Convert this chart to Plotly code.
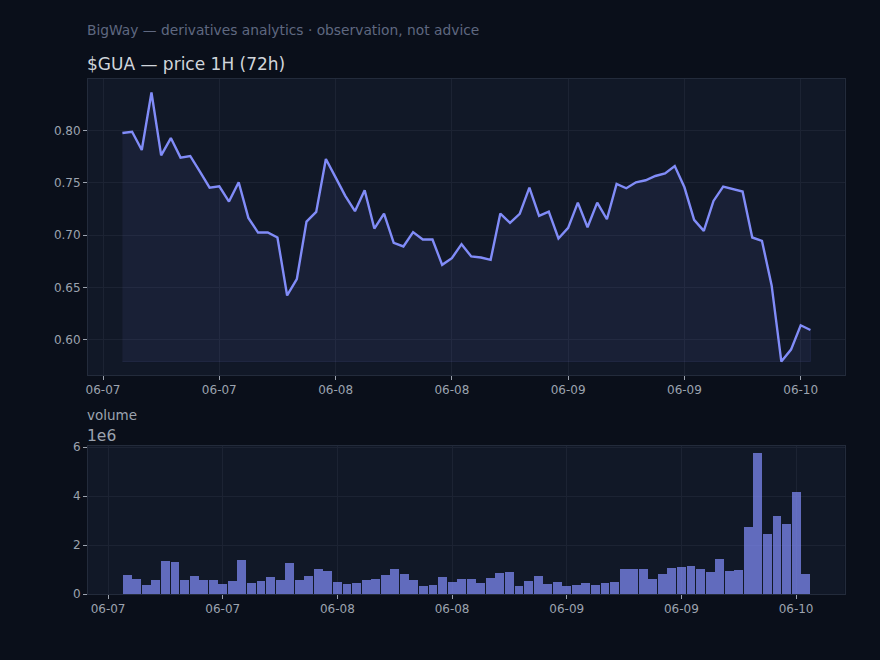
import pandas as pd
import plotly.graph_objects as go

# ---- data ----
start = "2024-06-07 02:00"
n_hours = 72
price = [
    0.7975, 0.7987, 0.7813, 0.8362, 0.7762, 0.7927, 0.7740, 0.7756, 0.7606, 0.7454,
    0.7467, 0.7321, 0.7505, 0.7165, 0.7025, 0.7025, 0.6978, 0.6425, 0.6581, 0.7130,
    0.7222, 0.7727, 0.7552, 0.7375, 0.7229, 0.7429, 0.7063, 0.7206, 0.6927, 0.6892,
    0.7029, 0.6959, 0.6959, 0.6717, 0.6781, 0.6914, 0.6797, 0.6787, 0.6765, 0.7206,
    0.7117, 0.7203, 0.7454, 0.7184, 0.7225, 0.6968, 0.7070, 0.7311, 0.7076, 0.7311,
    0.7152, 0.7489, 0.7448, 0.7505, 0.7524, 0.7565, 0.7590, 0.7660, 0.7457, 0.7146,
    0.7041, 0.7327, 0.7463, 0.7441, 0.7416, 0.6978, 0.6946, 0.6521, 0.5794, 0.5908,
    0.6140, 0.6095,
]
volume = [
    776000, 612000, 367000, 571000, 1347000, 1306000, 571000, 735000, 571000, 571000,
    422000, 531000, 1388000, 449000, 531000, 694000, 571000, 1265000, 571000, 735000,
    1020000, 939000, 490000, 408000, 449000, 571000, 612000, 776000, 1020000, 816000,
    571000, 327000, 367000, 694000, 490000, 612000, 612000, 449000, 653000, 857000,
    898000, 327000, 531000, 735000, 408000, 490000, 327000, 367000, 449000, 367000,
    449000, 490000, 1020000, 1020000, 1020000, 612000, 816000, 1061000, 1102000, 1143000,
    1020000, 898000, 1429000, 939000, 980000, 2735000, 5755000, 2449000, 3184000, 2857000,
    4163000, 816000,
]
vol_ticks = [0, 2e6, 4e6, 6e6]
vol_tick_text = ["0", "2", "4", "6"]

subtitle = "BigWay — derivatives analytics · observation, not advice"
title = "$GUA — price 1H (72h)"

# ---- styling ----
PAGE = "#0a0f1a"
FACE = "#111827"
GRID = "#1c2333"
SPINE = "#232b3b"
TICK = "#9ca3af"
LINE = "#818cf8"
FONT = "DejaVu Sans"

times = pd.date_range(start, periods=n_hours, freq="h")
hour = pd.Timedelta(hours=1)

pmin, pmax = min(price), max(price)
pr = pmax - pmin
t0, t1 = times[0], times[-1]
span = t1 - t0
x1_range = [t0 - 0.05 * span, t1 + 0.05 * span]
bspan = span + hour
x2_range = [t0 - 0.5 * hour - 0.05 * bspan, t1 + 0.5 * hour + 0.05 * bspan]

fig = go.Figure()

# fill polygon under the price line
fig.add_trace(go.Scatter(
    x=list(times) + list(times[::-1]),
    y=price + [pmin] * n_hours,
    fill="toself", fillcolor="rgba(129,140,248,0.075)",
    line=dict(color="rgba(129,140,248,0.10)", width=1),
    mode="lines", hoverinfo="skip", showlegend=False,
    xaxis="x", yaxis="y",
))
fig.add_trace(go.Scatter(
    x=times, y=price, mode="lines",
    line=dict(color=LINE, width=2.4),
    showlegend=False, xaxis="x", yaxis="y",
))
fig.add_trace(go.Bar(
    x=times, y=volume,
    width=[0.93 * 3600000] * n_hours,
    marker=dict(color="rgba(129,140,248,0.72)", line=dict(width=0)),
    showlegend=False, xaxis="x2", yaxis="y2",
))

axis_common = dict(
    showgrid=True, gridcolor=GRID, gridwidth=1,
    showline=True, linecolor=SPINE, linewidth=1, mirror=True,
    ticks="outside", ticklen=4, tickcolor=TICK, tickwidth=1,
    tickfont=dict(family=FONT, size=12, color=TICK),
    zeroline=False, automargin=False,
)

fig.update_layout(
    width=880, height=660, autosize=False,
    margin=dict(l=0, r=0, t=0, b=0, pad=0, autoexpand=False),
    paper_bgcolor=PAGE, plot_bgcolor=FACE,
    font=dict(family=FONT, color=TICK),
    xaxis=dict(domain=[0.1, 0.96], anchor="y", type="date",
               range=x1_range, tick0="2024-06-07", dtick=12 * 3600000,
               tickformat="%m-%d", **axis_common),
    yaxis=dict(domain=[1 - 375 / 660, 1 - 79 / 660], anchor="x",
               range=[pmin - 0.05 * pr, pmax + 0.05 * pr],
               tickvals=[0.60, 0.65, 0.70, 0.75, 0.80], tickformat=".2f",
               **axis_common),
    xaxis2=dict(domain=[0.1, 0.96], anchor="y2", type="date",
                range=x2_range, tick0="2024-06-07", dtick=12 * 3600000,
                tickformat="%m-%d", **axis_common),
    yaxis2=dict(domain=[1 - 594 / 660, 1 - 446 / 660], anchor="x2",
                range=[0, max(volume) * 1.05],
                tickvals=vol_ticks, ticktext=vol_tick_text,
                **axis_common),
    bargap=0,
    annotations=[
        dict(text=subtitle, x=0.1, y=1 - 30 / 660, xref="paper", yref="paper",
             xanchor="left", yanchor="middle", showarrow=False, xshift=-3,
             font=dict(family=FONT, size=13.8, color="#5f6880")),
        dict(text=title, x=0.1, y=1 - 64 / 660, xref="paper", yref="paper",
             xanchor="left", yanchor="middle", showarrow=False, xshift=-3,
             font=dict(family=FONT, size=17, color="#d1d5db")),
        dict(text="volume", x=0.1, y=1 - 415 / 660, xref="paper", yref="paper",
             xanchor="left", yanchor="middle", showarrow=False, xshift=-3,
             font=dict(family=FONT, size=13.5, color=TICK)),
        dict(text="1e6", x=0.1, y=1 - 436 / 660, xref="paper", yref="paper",
             xanchor="left", yanchor="middle", showarrow=False, xshift=-3,
             font=dict(family=FONT, size=15.5, color=TICK)),
    ],
)

fig.write_html("out.html")
